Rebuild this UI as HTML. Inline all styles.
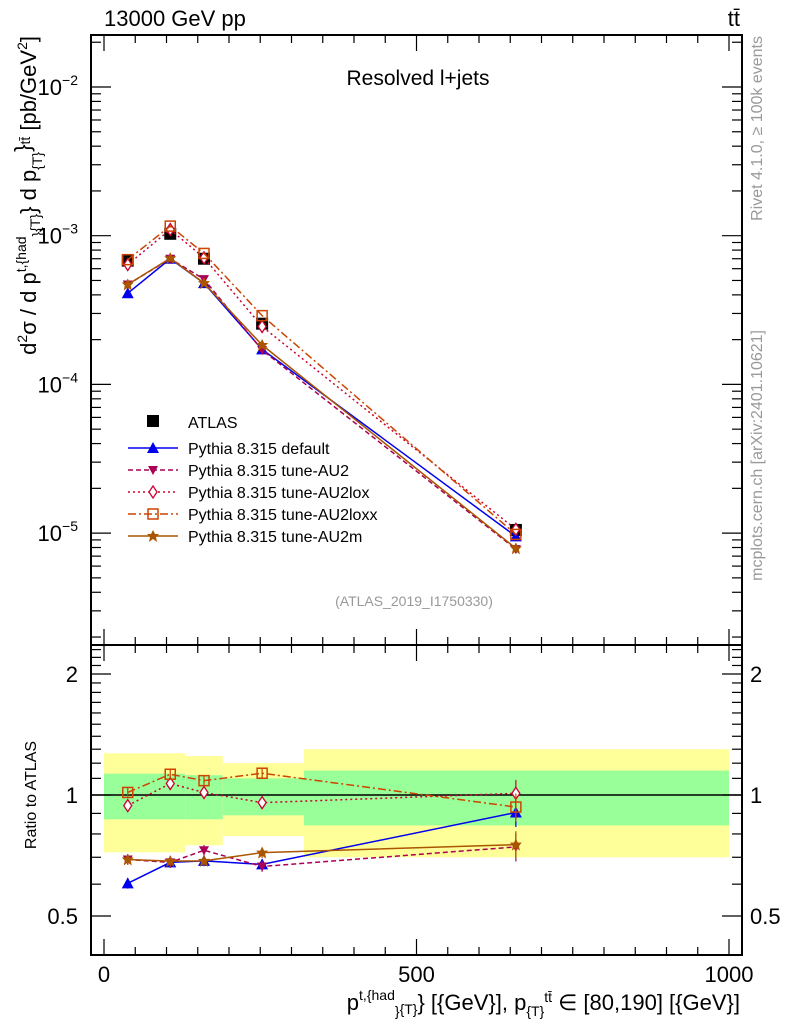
<!DOCTYPE html>
<html><head><meta charset="utf-8"><style>
body{margin:0;background:#fff;font-family:"Liberation Sans",sans-serif}
svg text{font-family:"Liberation Sans",sans-serif}
</style></head><body>
<svg id="c" width="786" height="1024" xmlns="http://www.w3.org/2000/svg"></svg>
<script>
const xCenters=[38,106,160,253,659];
const dataVals=[6.8e-4,1.03e-3,7.0e-4,2.56e-4,1.05e-5];
const defaultVals=[4.1e-4,7.0e-4,4.8e-4,1.72e-4,9.5e-6];
const au2Vals=[4.7e-4,7.0e-4,5.1e-4,1.7e-4,7.8e-6];
const au2loxVals=[6.4e-4,1.1e-3,7.1e-4,2.45e-4,1.06e-5];
const au2loxxVals=[6.9e-4,1.16e-3,7.6e-4,2.9e-4,9.8e-6];
const au2mVals=[4.7e-4,7.05e-4,4.8e-4,1.84e-4,7.9e-6];
const ratioErr=[0.03,0.03,0.03,0.03,0.08];
const bandEdges=[0,130,190,320,1000];
const bandYellowLo=[0.72,0.75,0.79,0.70];
const bandYellowHi=[1.27,1.25,1.20,1.30];
const bandGreenLo=[0.87,0.87,0.89,0.84];
const bandGreenHi=[1.13,1.12,1.10,1.15];
const xTicks=[0,500,1000];
const yTicksMain=[-2,-3,-4,-5];
const yTicksRatio=[0.5,1,2];

const NS="http://www.w3.org/2000/svg";
const svg=document.getElementById('c');
function el(t,a,p){const e=document.createElementNS(NS,t);for(const k in a)e.setAttribute(k,a[k]);(p||svg).appendChild(e);return e;}
const L=91,R=742,T=35,MB=645,RB=955;
const xs=v=>104+v*0.625;
const ym=v=>87-(Math.log10(v)+2)*148.7;
const yr=v=>795-Math.log2(v)*121;

for(let i=0;i<4;i++){
  const b=el('rect',{x:xs(bandEdges[i]),y:yr(bandYellowHi[i]),width:xs(bandEdges[i+1])-xs(bandEdges[i]),height:yr(bandYellowLo[i])-yr(bandYellowHi[i]),fill:'#ffff99'});
  
  const g=el('rect',{x:xs(bandEdges[i]),y:yr(bandGreenHi[i]),width:xs(bandEdges[i+1])-xs(bandEdges[i]),height:yr(bandGreenLo[i])-yr(bandGreenHi[i]),fill:'#99ff99'});
  
}
el('line',{x1:L,x2:R,y1:795,y2:795,stroke:'#000','stroke-width':1.5});
const f1=el('rect',{x:L,y:T,width:R-L,height:MB-T,fill:'none',stroke:'#000','stroke-width':2});

const f2=el('rect',{x:L,y:MB,width:R-L,height:RB-MB,fill:'none',stroke:'#000','stroke-width':2});

for(let v=0;v<=1000;v+=50){const big=v%500===0;const len=big?16:8;
 for(const [y0,d] of [[T,1],[MB,-1],[MB,1],[RB,-1]]) el('line',{x1:xs(v),x2:xs(v),y1:y0,y2:y0+d*len,stroke:'#000','stroke-width':1.2});}
for(const v of xTicks){const t=el('text',{x:xs(v),y:982,'font-size':22,'text-anchor':'middle'});t.textContent=v;
 }
for(let d=-6;d<=-1;d++)for(let m=1;m<10;m++){const v=m*Math.pow(10,d);const y=ym(v);if(y<T||y>MB)continue;const len=m===1?20:10;
 el('line',{x1:L,x2:L+len,y1:y,y2:y,stroke:'#000','stroke-width':1.2});el('line',{x1:R,x2:R-len,y1:y,y2:y,stroke:'#000','stroke-width':1.2});}
for(const d of yTicksMain){const t=el('text',{x:78,y:ym(Math.pow(10,d))+8,'font-size':22,'text-anchor':'end'});
 t.innerHTML='10<tspan dy="-10" font-size="14">−'+(-d)+'</tspan>';}
for(let v=0.4;v<=2.4;v+=0.1){const y=yr(v);if(y<MB||y>RB)continue;const big=[0.5,1,2].some(k=>Math.abs(k-v)<1e-6);const len=big?20:10;
 el('line',{x1:L,x2:L+len,y1:y,y2:y,stroke:'#000','stroke-width':1.2});el('line',{x1:R,x2:R-len,y1:y,y2:y,stroke:'#000','stroke-width':1.2});}
for(const v of yTicksRatio){for(const [x,a] of [[78,'end'],[750,'start']]){const t=el('text',{x:x,y:yr(v)+8,'font-size':22,'text-anchor':a});t.textContent=v;
 }}

const series=[
 {name:'default',vals:defaultVals,color:'#0000ee',dash:'',mk:'tri',label:'Pythia 8.315 default'},
 {name:'au2',vals:au2Vals,color:'#aa0055',dash:'5,3',mk:'dtri',label:'Pythia 8.315 tune-AU2'},
 {name:'au2lox',vals:au2loxVals,color:'#cc0033',dash:'2,3',mk:'dia',label:'Pythia 8.315 tune-AU2lox'},
 {name:'au2loxx',vals:au2loxxVals,color:'#cc4400',dash:'8,3,2,3',mk:'sq',label:'Pythia 8.315 tune-AU2loxx'},
 {name:'au2m',vals:au2mVals,color:'#aa5500',dash:'',mk:'star',label:'Pythia 8.315 tune-AU2m'}];
function marker(mk,x,y,c,g){
 if(mk==='tri')return el('path',{d:`M${x-6},${y+5}L${x+6},${y+5}L${x},${y-6}Z`,fill:c},g);
 if(mk==='dtri')return el('path',{d:`M${x-5},${y-4}L${x+5},${y-4}L${x},${y+5}Z`,fill:c},g);
 if(mk==='dia')return el('path',{d:`M${x},${y-6}L${x+4},${y}L${x},${y+6}L${x-4},${y}Z`,fill:'#fff',stroke:c,'stroke-width':1.3},g);
 if(mk==='sq')return el('rect',{x:x-5,y:y-5,width:10,height:10,fill:'none',stroke:c,'stroke-width':1.5},g);
 return el('path',{d:`M${x},${y-6}L${x+2},${y-2}L${x+6},${y-2}L${x+3},${y+1}L${x+4},${y+6}L${x},${y+3}L${x-4},${y+6}L${x-3},${y+1}L${x-6},${y-2}L${x-2},${y-2}Z`,fill:c},g);
}
for(let i=0;i<xCenters.length;i++){const r=el('rect',{x:xs(xCenters[i])-6,y:ym(dataVals[i])-6,width:12,height:12,fill:'#000'});
 }
for(const s of series){
 const g=el('g',{});
 const pm=xCenters.map((x,i)=>xs(x)+','+ym(s.vals[i])).join(' ');
 el('polyline',{points:pm,fill:'none',stroke:s.color,'stroke-width':1.5,'stroke-dasharray':s.dash},g);
 const pr=xCenters.map((x,i)=>xs(x)+','+yr(s.vals[i]/dataVals[i])).join(' ');
 el('polyline',{points:pr,fill:'none',stroke:s.color,'stroke-width':1.5,'stroke-dasharray':s.dash},g);
 xCenters.forEach((x,i)=>{marker(s.mk,xs(x),ym(s.vals[i]),s.color,g);const r=s.vals[i]/dataVals[i];const yy=yr(r);
  el('line',{x1:xs(x),x2:xs(x),y1:yr(r*(1+ratioErr[i])),y2:yr(r*(1-ratioErr[i])),stroke:s.color,'stroke-width':1.2},g);marker(s.mk,xs(x),yy,s.color,g);});
}
const lg=el('g',{});
el('rect',{x:147,y:415,width:12,height:12,fill:'#000'},lg);
let t=el('text',{x:188,y:428,'font-size':16},lg);t.textContent='ATLAS';
series.forEach((s,i)=>{const y=448+i*22;el('line',{x1:128,x2:178,y1:y,y2:y,stroke:s.color,'stroke-width':1.5,'stroke-dasharray':s.dash},lg);
 marker(s.mk,153,y,s.color,lg);const tt=el('text',{x:188,y:y+6,'font-size':16},lg);tt.textContent=s.label;});
function txt(s,a,name){const e=el('text',a);e.innerHTML=s;return e;}
txt('13000 GeV pp',{x:104,y:26,'font-size':22},'energy-label');
txt('tt̄',{x:740,y:26,'font-size':22,'text-anchor':'end'},'process-label');
txt('Resolved l+jets',{x:418,y:85,'font-size':21,'text-anchor':'middle'},'plot-title');
txt('(ATLAS_2019_I1750330)',{x:414,y:606,'font-size':14,fill:'#999','text-anchor':'middle'},'analysis-id');
txt('Rivet 4.1.0, ≥ 100k events',{x:0,y:0,'font-size':16,fill:'#999','text-anchor':'end',transform:'translate(762,36) rotate(-90)'},'rivet-label');
txt('mcplots.cern.ch [arXiv:2401.10621]',{x:0,y:0,'font-size':16,fill:'#999','text-anchor':'end',transform:'translate(762,330) rotate(-90)'},'mcplots-label');
txt('d<tspan dy="-9" font-size="14">2</tspan><tspan dy="9">σ / d p</tspan><tspan dy="-10" font-size="14">t,{had</tspan><tspan dy="16" font-size="14">}</tspan><tspan dy="-2" font-size="14">{T}</tspan><tspan dy="-4">} d p</tspan><tspan dy="6" font-size="14">{T}</tspan><tspan dy="-12">}</tspan><tspan font-size="14">tt̄</tspan><tspan dy="6"> [pb/GeV</tspan><tspan dy="-9" font-size="14">2</tspan><tspan dy="9">]</tspan>',{x:0,y:0,'font-size':22,'text-anchor':'end',transform:'translate(36,36) rotate(-90)'},'y-axis-title');
txt('Ratio to ATLAS',{x:0,y:0,'font-size':16,'text-anchor':'middle',transform:'translate(36,795) rotate(-90)'},'ratio-axis-title');
txt('p<tspan dy="-10" font-size="14">t,{had</tspan><tspan dy="16" font-size="14">}</tspan><tspan dy="-2" font-size="14">{T}</tspan><tspan dy="-4">} [{GeV}], p</tspan><tspan dy="6" font-size="14">{T}</tspan><tspan dy="-14" font-size="14">tt̄</tspan><tspan dy="8"> ∈ [80,190] [{GeV}]</tspan>',{x:740,y:1010,'font-size':22,'text-anchor':'end'},'x-axis-title');
</script>
</body></html>
